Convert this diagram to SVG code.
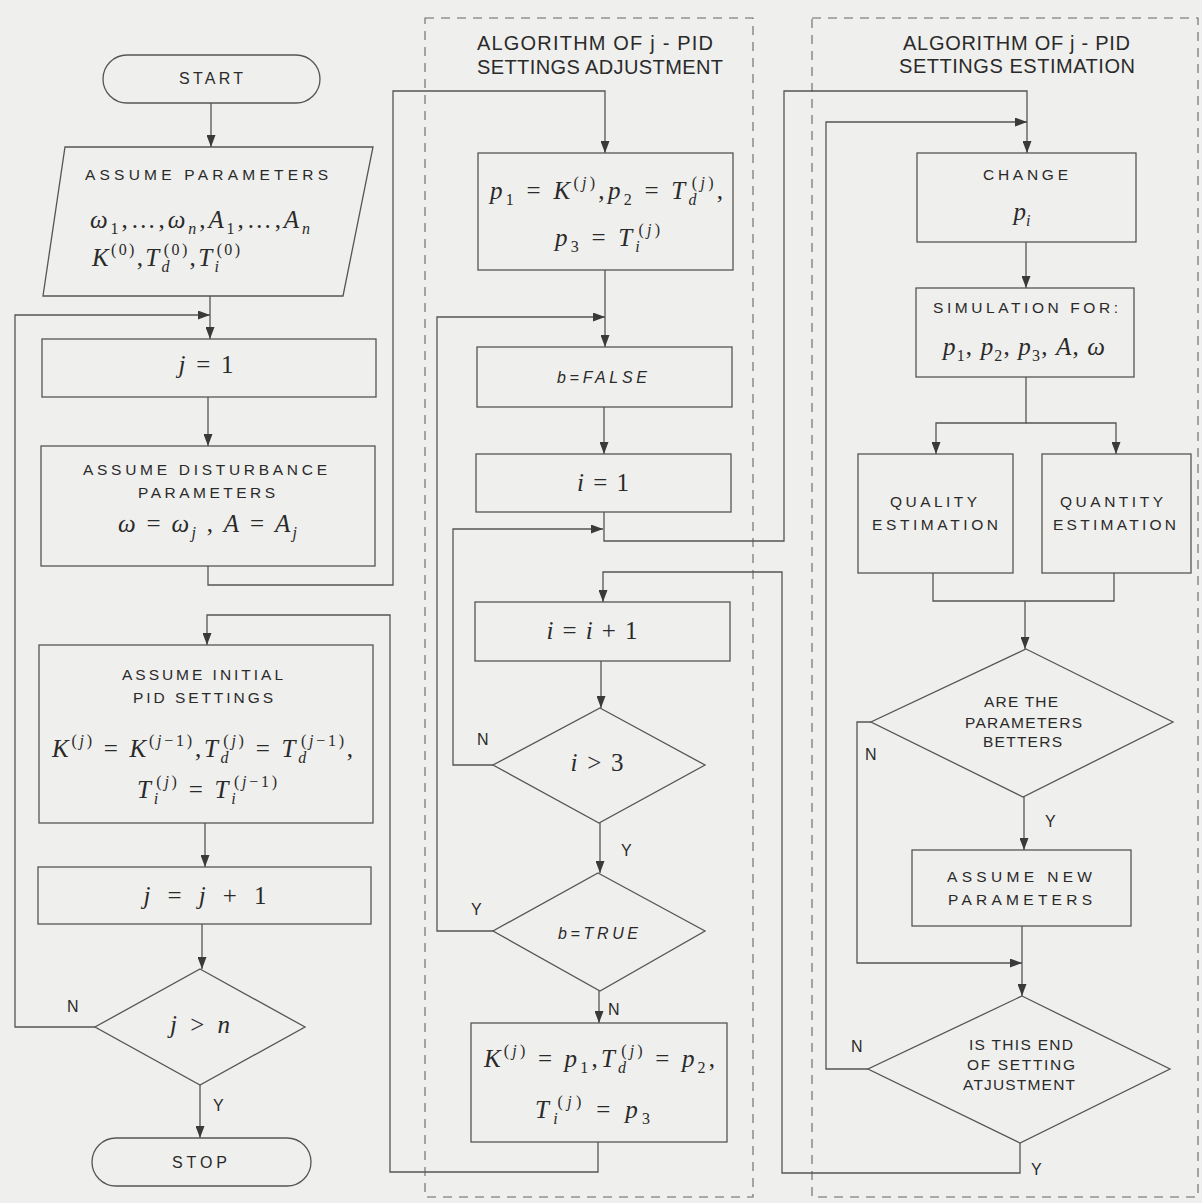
<svg xmlns="http://www.w3.org/2000/svg" width="1202" height="1203" viewBox="0 0 1202 1203">
<defs>
<marker id="ah" markerUnits="userSpaceOnUse" markerWidth="12" markerHeight="9" refX="12" refY="4.5" orient="auto">
<path d="M0,0 L12,4.5 L0,9 z" fill="#3a3a3a"/>
</marker>
<style>
.bg{fill:#efefed}
.nd{fill:none;stroke:#555;stroke-width:1.3}
.fr{fill:none;stroke:#666;stroke-width:1.1;stroke-dasharray:9 7}
.cn{fill:none;stroke:#555;stroke-width:1.3}
.ar{marker-end:url(#ah)}
.t{font-family:"Liberation Sans",Arial,sans-serif;font-size:15.5px;fill:#2a2a2a}
.h{font-family:"Liberation Sans",Arial,sans-serif;font-size:20px;fill:#2a2a2a}
.yn{font-family:"Liberation Sans",Arial,sans-serif;font-size:16px;fill:#2a2a2a}
.it{font-style:italic;font-size:16px}
.m{font-family:"Liberation Serif","Times New Roman",serif;font-size:25px;fill:#2a2a2a}
.mi{font-style:italic}
.sb{font-size:16px}
</style>
</defs>
<rect class="bg" x="0" y="0" width="1202" height="1203"/>

<g id="frames">
<rect class="fr" x="425" y="18" width="328" height="1179"/>
<rect class="fr" x="812" y="18" width="386" height="1179"/>
<text class="h" x="477" y="50" textLength="236" lengthAdjust="spacing">ALGORITHM OF j - PID</text>
<text class="h" x="477" y="74" textLength="246" lengthAdjust="spacing">SETTINGS ADJUSTMENT</text>
<text class="h" x="903" y="50" textLength="227" lengthAdjust="spacing">ALGORITHM OF j - PID</text>
<text class="h" x="899" y="73" textLength="236" lengthAdjust="spacing">SETTINGS ESTIMATION</text>
</g>

<g id="connectors">
<path class="cn ar" d="M211,103 V147"/>
<path class="cn ar" d="M210,296 V339"/>
<path class="cn ar" d="M95,1027 H15 V315 H210"/>
<path class="cn ar" d="M208,397 V446"/>
<path class="cn ar" d="M208,566 V585 H393 V91 H605 V153"/>
<path class="cn ar" d="M605,270 V347"/>
<path class="cn ar" d="M493,931 H437 V317 H605"/>
<path class="cn ar" d="M604,407 V454"/>
<path class="cn ar" d="M604,512 V541 H784 V91 H1027 V153"/>
<path class="cn ar" d="M493,765 H453 V529 H603"/>
<path class="cn ar" d="M1020,1143 V1173 H782 V572 H603 V602"/>
<path class="cn ar" d="M601,661 V708"/>
<path class="cn ar" d="M600,823 V873"/>
<path class="cn ar" d="M599,991 V1023"/>
<path class="cn ar" d="M598,1142 V1172 H390 V615 H207 V645"/>
<path class="cn ar" d="M205,823 V867"/>
<path class="cn ar" d="M202,924 V969"/>
<path class="cn ar" d="M200,1085 V1138"/>
<path class="cn ar" d="M1026,242 V288"/>
<path class="cn ar" d="M1026,377 V423 H936 V454"/>
<path class="cn ar" d="M1026,423 H1116 V454"/>
<path class="cn" d="M933,573 V601 H1114 V573"/>
<path class="cn ar" d="M1025,601 V649"/>
<path class="cn ar" d="M871,722 H857 V963 H1022"/>
<path class="cn ar" d="M1024,797 V850"/>
<path class="cn ar" d="M1022,926 V996"/>
<path class="cn ar" d="M868,1069 H826 V122 H1027"/>
<text class="yn" x="67" y="1012">N</text>
<text class="yn" x="213" y="1111">Y</text>
<text class="yn" x="477" y="745">N</text>
<text class="yn" x="621" y="856">Y</text>
<text class="yn" x="471" y="915">Y</text>
<text class="yn" x="608" y="1015">N</text>
<text class="yn" x="865" y="760">N</text>
<text class="yn" x="1045" y="827">Y</text>
<text class="yn" x="851" y="1052">N</text>
<text class="yn" x="1031" y="1175">Y</text>
</g>

<g id="start">
<rect class="nd" x="103" y="55" width="217" height="48" rx="24"/>
<text class="t" style="font-size:16px" x="179" y="84" textLength="64" lengthAdjust="spacing">START</text>
</g>

<g id="assume-parameters">
<polygon class="nd" points="65,147 373,147 343,296 43,296"/>
<text class="t" x="85" y="180" textLength="243" lengthAdjust="spacing">ASSUME PARAMETERS</text>
<text class="m" x="90" y="228" textLength="220" lengthAdjust="spacing"><tspan class="mi">ω</tspan><tspan class="sb" dy="6">1</tspan><tspan dy="-6">,…,</tspan><tspan class="mi">ω</tspan><tspan class="sb mi" dy="6">n</tspan><tspan dy="-6">,</tspan><tspan class="mi">A</tspan><tspan class="sb" dy="6">1</tspan><tspan dy="-6">,…,</tspan><tspan class="mi">A</tspan><tspan class="sb mi" dy="6">n</tspan></text>
<text class="m" x="92" y="266" textLength="148" lengthAdjust="spacing"><tspan class="mi">K</tspan><tspan class="sb" dy="-11">(0)</tspan><tspan dy="11">,</tspan><tspan class="mi">T</tspan><tspan class="sb mi" dy="6">d</tspan><tspan class="sb" dx="-8" dy="-17">(0)</tspan><tspan dy="11">,</tspan><tspan class="mi">T</tspan><tspan class="sb mi" dy="6">i</tspan><tspan class="sb" dx="-4.5" dy="-17">(0)</tspan></text>
</g>

<g id="j-eq-1">
<rect class="nd" x="42" y="339" width="334" height="58"/>
<text class="m" x="206" y="373" text-anchor="middle" textLength="55" lengthAdjust="spacing"><tspan class="mi">j</tspan> = 1</text>
</g>

<g id="assume-disturbance">
<rect class="nd" x="41" y="446" width="334" height="120"/>
<text class="t" x="83" y="475" textLength="244" lengthAdjust="spacing">ASSUME DISTURBANCE</text>
<text class="t" x="138" y="498" textLength="137" lengthAdjust="spacing">PARAMETERS</text>
<text class="m" x="118" y="532" textLength="179" lengthAdjust="spacing"><tspan class="mi">ω</tspan> = <tspan class="mi">ω</tspan><tspan class="sb mi" dy="6">j</tspan><tspan dy="-6"> , </tspan><tspan class="mi">A</tspan> = <tspan class="mi">A</tspan><tspan class="sb mi" dy="6">j</tspan></text>
</g>

<g id="assume-initial">
<rect class="nd" x="39" y="645" width="334" height="178"/>
<text class="t" x="122" y="680" textLength="161" lengthAdjust="spacing">ASSUME  INITIAL</text>
<text class="t" x="133" y="703" textLength="140" lengthAdjust="spacing">PID SETTINGS</text>
<text class="m" x="52" y="757" textLength="301" lengthAdjust="spacing"><tspan class="mi">K</tspan><tspan class="sb" dy="-11">(<tspan class="mi">j</tspan>)</tspan><tspan dy="11"> = </tspan><tspan class="mi">K</tspan><tspan class="sb" dy="-11">(<tspan class="mi">j</tspan>−1)</tspan><tspan dy="11">,</tspan><tspan class="mi">T</tspan><tspan class="sb mi" dy="6">d</tspan><tspan class="sb" dx="-8" dy="-17">(<tspan class="mi">j</tspan>)</tspan><tspan dy="11"> = </tspan><tspan class="mi">T</tspan><tspan class="sb mi" dy="6">d</tspan><tspan class="sb" dx="-8" dy="-17">(<tspan class="mi">j</tspan>−1)</tspan><tspan dy="11">,</tspan></text>
<text class="m" x="137" y="798" textLength="140" lengthAdjust="spacing"><tspan class="mi">T</tspan><tspan class="sb mi" dy="6">i</tspan><tspan class="sb" dx="-4.5" dy="-17">(<tspan class="mi">j</tspan>)</tspan><tspan dy="11"> = </tspan><tspan class="mi">T</tspan><tspan class="sb mi" dy="6">i</tspan><tspan class="sb" dx="-4.5" dy="-17">(<tspan class="mi">j</tspan>−1)</tspan></text>
</g>

<g id="j-inc">
<rect class="nd" x="38" y="867" width="333" height="57"/>
<text class="m" x="205" y="904" text-anchor="middle" textLength="123" lengthAdjust="spacing"><tspan class="mi">j</tspan> = <tspan class="mi">j</tspan> + 1</text>
</g>

<g id="j-gt-n">
<polygon class="nd" points="200,969 305,1027 200,1085 95,1027"/>
<text class="m" x="200" y="1033" text-anchor="middle" textLength="60" lengthAdjust="spacing"><tspan class="mi">j</tspan> &gt; <tspan class="mi">n</tspan></text>
</g>

<g id="stop">
<rect class="nd" x="92" y="1138" width="219" height="48" rx="24"/>
<text class="t" style="font-size:16px" x="172" y="1168" textLength="55" lengthAdjust="spacing">STOP</text>
</g>

<g id="p-assign">
<rect class="nd" x="478" y="153" width="255" height="117"/>
<text class="m" x="490" y="199" textLength="233" lengthAdjust="spacing"><tspan class="mi">p</tspan><tspan class="sb" dy="6">1</tspan><tspan dy="-6"> = </tspan><tspan class="mi">K</tspan><tspan class="sb" dy="-11">(<tspan class="mi">j</tspan>)</tspan><tspan dy="11">,</tspan><tspan class="mi">p</tspan><tspan class="sb" dy="6">2</tspan><tspan dy="-6"> = </tspan><tspan class="mi">T</tspan><tspan class="sb mi" dy="6">d</tspan><tspan class="sb" dx="-8" dy="-17">(<tspan class="mi">j</tspan>)</tspan><tspan dy="11">,</tspan></text>
<text class="m" x="555" y="246" textLength="105" lengthAdjust="spacing"><tspan class="mi">p</tspan><tspan class="sb" dy="6">3</tspan><tspan dy="-6"> = </tspan><tspan class="mi">T</tspan><tspan class="sb mi" dy="6">i</tspan><tspan class="sb" dx="-4.5" dy="-17">(<tspan class="mi">j</tspan>)</tspan></text>
</g>

<g id="b-false">
<rect class="nd" x="477" y="347" width="255" height="60"/>
<text class="t it" x="557" y="383" textLength="90" lengthAdjust="spacing">b=FALSE</text>
</g>

<g id="i-eq-1">
<rect class="nd" x="476" y="454" width="255" height="58"/>
<text class="m" x="603" y="491" text-anchor="middle" textLength="52" lengthAdjust="spacing"><tspan class="mi">i</tspan> = 1</text>
</g>

<g id="i-inc">
<rect class="nd" x="475" y="602" width="255" height="59"/>
<text class="m" x="592" y="639" text-anchor="middle" textLength="91" lengthAdjust="spacing"><tspan class="mi">i</tspan> = <tspan class="mi">i</tspan> + 1</text>
</g>

<g id="i-gt-3">
<polygon class="nd" points="600,708 705,765 599,823 493,765"/>
<text class="m" x="597" y="771" text-anchor="middle" textLength="53" lengthAdjust="spacing"><tspan class="mi">i</tspan> &gt; 3</text>
</g>

<g id="b-true">
<polygon class="nd" points="598,873 705,931 600,991 493,931"/>
<text class="t it" x="558" y="939" textLength="80" lengthAdjust="spacing">b=TRUE</text>
</g>

<g id="k-assign">
<rect class="nd" x="471" y="1023" width="256" height="119"/>
<text class="m" x="484" y="1067" textLength="231" lengthAdjust="spacing"><tspan class="mi">K</tspan><tspan class="sb" dy="-11">(<tspan class="mi">j</tspan>)</tspan><tspan dy="11"> = </tspan><tspan class="mi">p</tspan><tspan class="sb" dy="6">1</tspan><tspan dy="-6">,</tspan><tspan class="mi">T</tspan><tspan class="sb mi" dy="6">d</tspan><tspan class="sb" dx="-8" dy="-17">(<tspan class="mi">j</tspan>)</tspan><tspan dy="11"> = </tspan><tspan class="mi">p</tspan><tspan class="sb" dy="6">2</tspan><tspan dy="-6">,</tspan></text>
<text class="m" x="535" y="1118" textLength="115" lengthAdjust="spacing"><tspan class="mi">T</tspan><tspan class="sb mi" dy="6">i</tspan><tspan class="sb" dx="-4.5" dy="-17">(<tspan class="mi">j</tspan>)</tspan><tspan dy="11"> = </tspan><tspan class="mi">p</tspan><tspan class="sb" dy="6">3</tspan></text>
</g>

<g id="change">
<rect class="nd" x="917" y="153" width="219" height="89"/>
<text class="t" x="983" y="180" textLength="85" lengthAdjust="spacing">CHANGE</text>
<text class="m" x="1022" y="220" text-anchor="middle"><tspan class="mi">p</tspan><tspan class="sb mi" dy="6">i</tspan></text>
</g>

<g id="simulation">
<rect class="nd" x="916" y="288" width="218" height="89"/>
<text class="t" x="933" y="313" textLength="185" lengthAdjust="spacing">SIMULATION FOR:</text>
<text class="m" x="943" y="355" textLength="162" lengthAdjust="spacing"><tspan class="mi">p</tspan><tspan class="sb" dy="6">1</tspan><tspan dy="-6">, </tspan><tspan class="mi">p</tspan><tspan class="sb" dy="6">2</tspan><tspan dy="-6">, </tspan><tspan class="mi">p</tspan><tspan class="sb" dy="6">3</tspan><tspan dy="-6">, </tspan><tspan class="mi">A</tspan>, <tspan class="mi">ω</tspan></text>
</g>

<g id="quality">
<rect class="nd" x="858" y="454" width="155" height="119"/>
<text class="t" x="890" y="507" textLength="87" lengthAdjust="spacing">QUALITY</text>
<text class="t" x="872" y="530" textLength="126" lengthAdjust="spacing">ESTIMATION</text>
</g>

<g id="quantity">
<rect class="nd" x="1042" y="454" width="149" height="119"/>
<text class="t" x="1060" y="507" textLength="103" lengthAdjust="spacing">QUANTITY</text>
<text class="t" x="1053" y="530" textLength="123" lengthAdjust="spacing">ESTIMATION</text>
</g>

<g id="are-better">
<polygon class="nd" points="1026,649 1173,722 1023,797 871,722"/>
<text class="t" x="984" y="707" textLength="74" lengthAdjust="spacing">ARE THE</text>
<text class="t" x="965" y="728" textLength="117" lengthAdjust="spacing">PARAMETERS</text>
<text class="t" x="983" y="747" textLength="79" lengthAdjust="spacing">BETTERS</text>
</g>

<g id="assume-new">
<rect class="nd" x="912" y="850" width="219" height="76"/>
<text class="t" x="947" y="882" textLength="145" lengthAdjust="spacing">ASSUME NEW</text>
<text class="t" x="948" y="905" textLength="144" lengthAdjust="spacing">PARAMETERS</text>
</g>

<g id="is-end">
<polygon class="nd" points="1022,996 1170,1069 1020,1143 868,1069"/>
<text class="t" x="969" y="1050" textLength="104" lengthAdjust="spacing">IS THIS END</text>
<text class="t" x="967" y="1070" textLength="108" lengthAdjust="spacing">OF SETTING</text>
<text class="t" x="963" y="1090" textLength="112" lengthAdjust="spacing">ATJUSTMENT</text>
</g>
</svg>
